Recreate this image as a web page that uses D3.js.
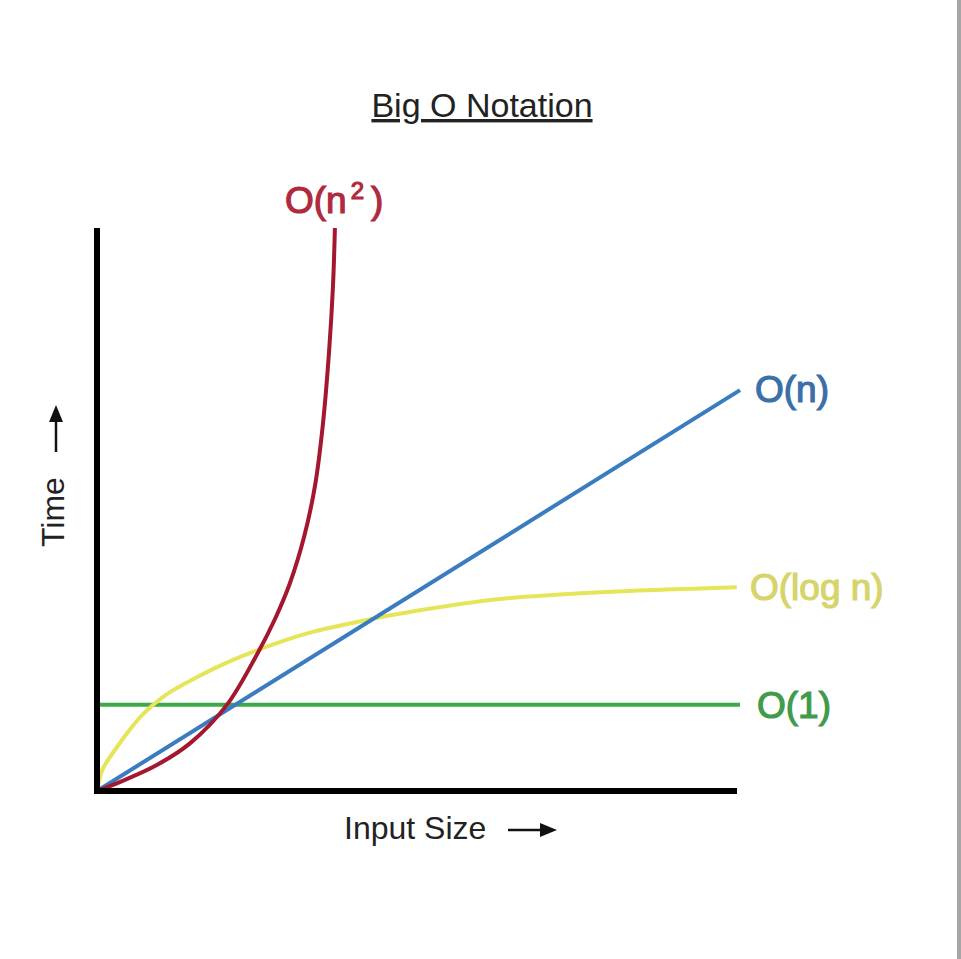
<!DOCTYPE html>
<html>
<head>
<meta charset="utf-8">
<script src="https://cdn.jsdelivr.net/npm/d3@7"></script>
<style>
  body { margin: 0; background: #fff; }
  svg { display: block; }
</style>
</head>
<body>
<div id="chart"></div>
<script>
// values: input size 0..100, time 0..100
var seriesNames = ["O(n", "O(n)", "O(log n)", "O(1)"];
var seriesColors = ["#a3172f", "#3a7cc0", "#e6e55a", "#3da94a"];
var labelColors = ["#b02a3e", "#3b6fa8", "#d6d46a", "#3f9b4b"];

var quadN = [0, 4.0, 9.3, 14.5, 20.2, 24.9, 27.7, 30.0, 32.2, 33.9, 35.1, 36.1, 36.7, 37.0];
var quadT = [0, 1.8, 4.6, 8.5, 15.3, 24.3, 30.6, 36.9, 45.1, 54.2, 64.8, 78.2, 89.7, 100];

var linN = [0, 100];
var linT = [0, 71.2];

var logN = [0, 0.9, 3.1, 4.7, 6.7, 8.6, 11.4, 14.5, 19.6, 24.9, 32.7, 42.0, 50.2, 62.7, 78.2, 99.5];
var logT = [0, 3.9, 7.8, 10.3, 13.1, 15.2, 17.6, 19.6, 22.5, 25.0, 28.0, 30.4, 32.1, 34.1, 35.3, 36.2];

var constN = [0, 100];
var constT = [15.3, 15.3];

var allN = [quadN, linN, logN, constN];
var allT = [quadT, linT, logT, constT];

var width = 961, height = 959;
var font = "Liberation Sans, Arial, Helvetica, sans-serif";

var svg = d3.select("#chart")
  .append("svg")
  .attr("width", width)
  .attr("height", height);

svg.append("rect").attr("width", width).attr("height", height).attr("fill", "#fff");
// grey strip on the right edge of the screenshot
svg.append("rect").attr("x", 957).attr("y", 0).attr("width", 4).attr("height", height).attr("fill", "#a6a6a6");

var xScale = d3.scaleLinear().domain([0, 100]).range([97, 740]);
var yScale = d3.scaleLinear().domain([0, 100]).range([791, 228]);

// title
svg.append("text")
  .attr("x", 482).attr("y", 117)
  .attr("text-anchor", "middle")
  .attr("font-family", font)
  .attr("font-size", "34px")
  .attr("fill", "#222")
  .attr("text-decoration", "underline")
  .text("Big O Notation");

// curves
var line = d3.line()
  .x(function(d) { return xScale(d[0]); })
  .y(function(d) { return yScale(d[1]); })
  .curve(d3.curveCatmullRom.alpha(0.5));

// draw back to front: green, yellow, blue, red
[3, 2, 1, 0].forEach(function(i) {
  var pts = allN[i].map(function(n, j) { return [n, allT[i][j]]; });
  svg.append("path")
    .datum(pts)
    .attr("d", line)
    .attr("fill", "none")
    .attr("stroke", seriesColors[i])
    .attr("stroke-width", 4)
    .attr("stroke-linecap", "butt");
});

// axes: plain thick lines, no ticks
var xAxis = d3.axisBottom(xScale).tickValues([]).tickSizeOuter(0);
var yAxis = d3.axisLeft(yScale).tickValues([]).tickSizeOuter(0);

var gx = svg.append("g")
  .attr("transform", "translate(0," + yScale(0) + ")")
  .call(xAxis);
gx.select(".domain").attr("stroke", "#000").attr("stroke-width", 6)
  .attr("d", "M" + (xScale(0) - 3) + ",0H" + (xScale(100) - 3));

var gy = svg.append("g")
  .attr("transform", "translate(" + xScale(0) + ",0)")
  .call(yAxis);
gy.select(".domain").attr("stroke", "#000").attr("stroke-width", 6)
  .attr("d", "M0," + yScale(100) + "V" + (yScale(0) + 3));

// axis titles
svg.append("text")
  .attr("x", 344).attr("y", 839)
  .attr("font-family", font)
  .attr("font-size", "32px")
  .attr("fill", "#222")
  .text("Input Size");
svg.append("path")
  .attr("d", "M508,830H545")
  .attr("stroke", "#111").attr("stroke-width", 2.5);
svg.append("path")
  .attr("d", "M557,830L540,823L540,837Z")
  .attr("fill", "#111");

svg.append("text")
  .attr("transform", "translate(64,547) rotate(-90)")
  .attr("font-family", font)
  .attr("font-size", "32px")
  .attr("fill", "#222")
  .text("Time");
svg.append("path")
  .attr("d", "M56,452V418")
  .attr("stroke", "#111").attr("stroke-width", 2.5);
svg.append("path")
  .attr("d", "M56,405L49,422L63,422Z")
  .attr("fill", "#111");

// series labels
var labelPos = [
  { x: 285, y: yScale(100) - 15 },
  { x: xScale(100) + 15, y: yScale(71.2) + 12 },
  { x: xScale(100) + 10, y: yScale(36.2) + 13 },
  { x: xScale(100) + 17, y: yScale(15.3) + 13 }
];
seriesNames.forEach(function(name, i) {
  var t = svg.append("text")
    .attr("x", labelPos[i].x).attr("y", labelPos[i].y)
    .attr("font-family", font)
    .attr("font-size", "37px")
    .attr("fill", labelColors[i])
    .attr("stroke", labelColors[i])
    .attr("stroke-width", 1.2)
    .text(name);
  if (i === 0) {
    t.append("tspan").attr("dx", 4).attr("dy", -14).attr("font-size", "24px").text("2");
    t.append("tspan").attr("dx", 7).attr("dy", 14).text(")");
  }
});
</script>
</body>
</html>
